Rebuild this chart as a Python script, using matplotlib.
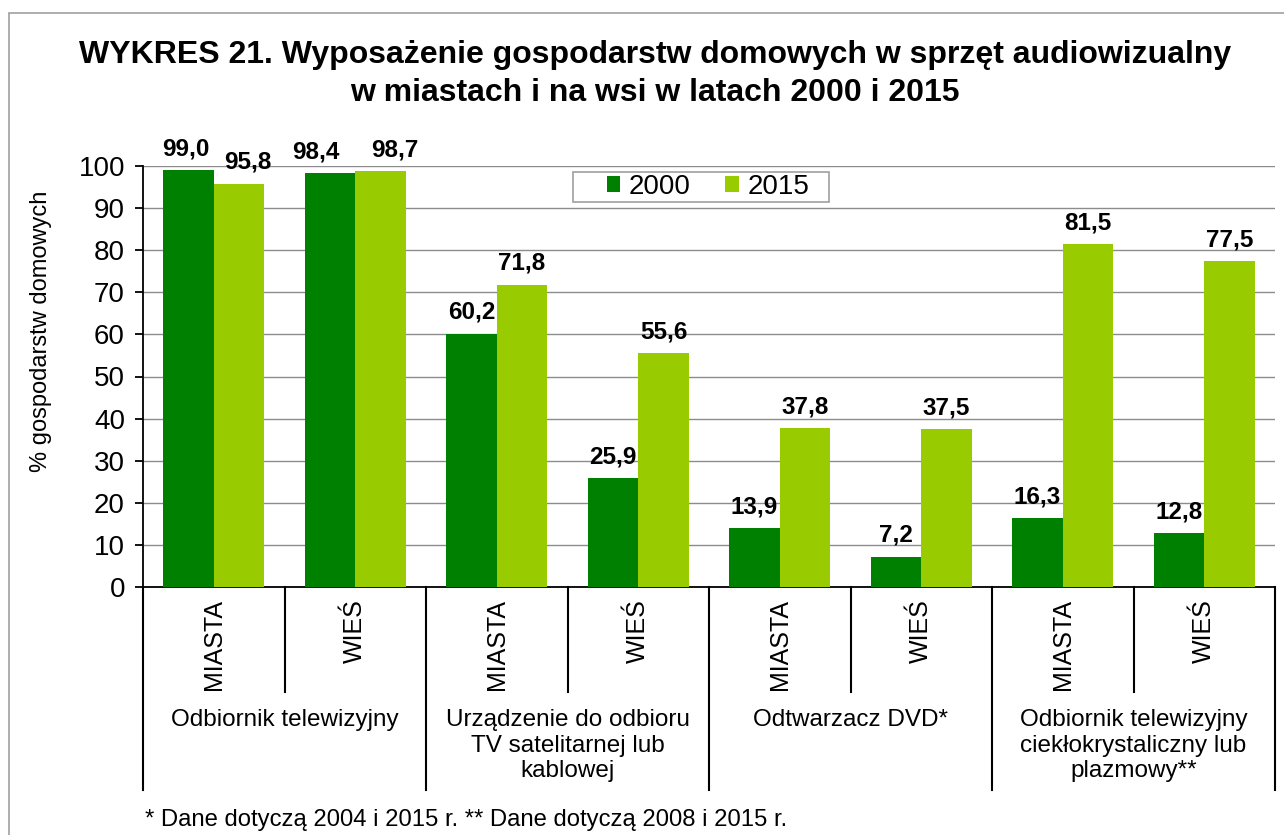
import matplotlib
matplotlib.use("Agg")
import matplotlib.pyplot as plt
import numpy as np
from matplotlib.patches import Rectangle

plt.rcParams["font.family"] = ["Liberation Sans", "DejaVu Sans"]

# Dane
podkategorie = ["MIASTA", "WIEŚ", "MIASTA", "WIEŚ", "MIASTA", "WIEŚ", "MIASTA", "WIEŚ"]
kategorie = [
    "Odbiornik telewizyjny",
    "Urządzenie do odbioru\nTV satelitarnej lub\nkablowej",
    "Odtwarzacz DVD*",
    "Odbiornik telewizyjny\nciekłokrystaliczny lub\nplazmowy**",
]
lata = ["2000", "2015"]
wartosci_2000 = [99.0, 98.4, 60.2, 25.9, 13.9, 7.2, 16.3, 12.8]
wartosci_2015 = [95.8, 98.7, 71.8, 55.6, 37.8, 37.5, 81.5, 77.5]
y_ticks = [0, 10, 20, 30, 40, 50, 60, 70, 80, 90, 100]

KOLORY = ["#008000", "#99CC00"]

W, H = 1284, 835
fig = plt.figure(figsize=(W / 100, H / 100), dpi=100)


def fx(px):
    return px / W


def fy(py):
    return 1 - py / H


# ramka zewnetrzna
fig.patches.append(Rectangle((fx(9), -0.05), 1.1, fy(13) + 0.05,
                             transform=fig.transFigure, fill=False,
                             edgecolor="#a0a0a0", linewidth=1.2))

ax_l, ax_r, ax_t, ax_b = 143, 1275, 166, 587
ax = fig.add_axes([fx(ax_l), fy(ax_b), (ax_r - ax_l) / W, (ax_b - ax_t) / H])
ax_h = ax_b - ax_t

n = len(podkategorie)
x = np.arange(n)
bw = 0.357
b1 = ax.bar(x - bw / 2, wartosci_2000, bw, color=KOLORY[0], label=lata[0], zorder=3)
b2 = ax.bar(x + bw / 2, wartosci_2015, bw, color=KOLORY[1], label=lata[1], zorder=3)

# etykiety wartosci (w pierwszej grupie lekko rozsuniete, jak w oryginale)
przesun = {(0, 0): -2, (1, 0): 6, (0, 1): -10, (1, 1): 10}
for k, (bars, vals) in enumerate(((b1, wartosci_2000), (b2, wartosci_2015))):
    for i, (bar, v) in enumerate(zip(bars, vals)):
        ax.annotate(f"{v:.1f}".replace(".", ","),
                    (bar.get_x() + bar.get_width() / 2, v),
                    xytext=(przesun.get((k, i), 0), 7), textcoords="offset points",
                    ha="center", va="bottom", fontsize=17.5, fontweight="bold")

ax.set_xlim(-0.5, n - 0.5)
ax.set_ylim(0, 100)
ax.set_yticks(y_ticks)
ax.tick_params(axis="y", labelsize=20, length=6, width=1.3, direction="out", pad=7)
ax.set_xticks([])
ax.yaxis.grid(True, color="#8c8c8c", linewidth=1)
ax.set_axisbelow(True)
for s in ("top", "right"):
    ax.spines[s].set_visible(False)
ax.spines["left"].set_linewidth(1.3)
ax.spines["bottom"].set_linewidth(1.3)

fig.text(fx(41), fy(331), "% gospodarstw domowych", rotation=90,
         ha="center", va="center", fontsize=17)

# linie podzialu i etykiety osi X
tr = ax.get_xaxis_transform()
y_inner = -(692 - ax_b) / ax_h
y_outer = -(790 - ax_b) / ax_h
for i in range(n + 1):
    y_end = y_outer if i % 2 == 0 else y_inner
    ax.plot([i - 0.5, i - 0.5], [0, y_end], transform=tr, color="black",
            linewidth=1.5, clip_on=False)

for i, lab in enumerate(podkategorie):
    ax.text(i, -(599 - ax_b) / ax_h, lab, transform=tr, rotation=90,
            ha="center", va="top", fontsize=18)

for j, lab in enumerate(kategorie):
    ax.text(2 * j + 0.5, -(709 - ax_b) / ax_h, lab, transform=tr,
            ha="center", va="top", fontsize=17.5, linespacing=1.22)

# legenda (ramka rysowana osobno)
ax.add_patch(Rectangle((fx(573), fy(202)), (829 - 573) / W, (202 - 172) / H,
                       transform=fig.transFigure, fill=True, facecolor="white",
                       edgecolor="#a0a0a0", linewidth=1.2, zorder=4, clip_on=False))
leg = ax.legend(loc="center", bbox_to_anchor=((708 - ax_l) / (ax_r - ax_l), (ax_b - 187) / ax_h),
                ncol=2, fontsize=20, frameon=False,
                handlelength=0.5, handleheight=0.5, handletextpad=0.3,
                columnspacing=1.25, borderpad=0.1)
leg.set_zorder(6)

fig.text(fx(655), fy(55),
         "WYKRES 21. Wyposażenie gospodarstw domowych w sprzęt audiowizualny",
         ha="center", va="center", fontsize=23, fontweight="bold")
fig.text(fx(655), fy(93), "w miastach i na wsi w latach 2000 i 2015",
         ha="center", va="center", fontsize=23, fontweight="bold")

fig.text(fx(145), fy(820),
         "* Dane dotyczą 2004 i 2015 r. ** Dane dotyczą 2008 i 2015 r.",
         ha="left", va="center", fontsize=17.2)

fig.savefig("out.png", dpi=100)
